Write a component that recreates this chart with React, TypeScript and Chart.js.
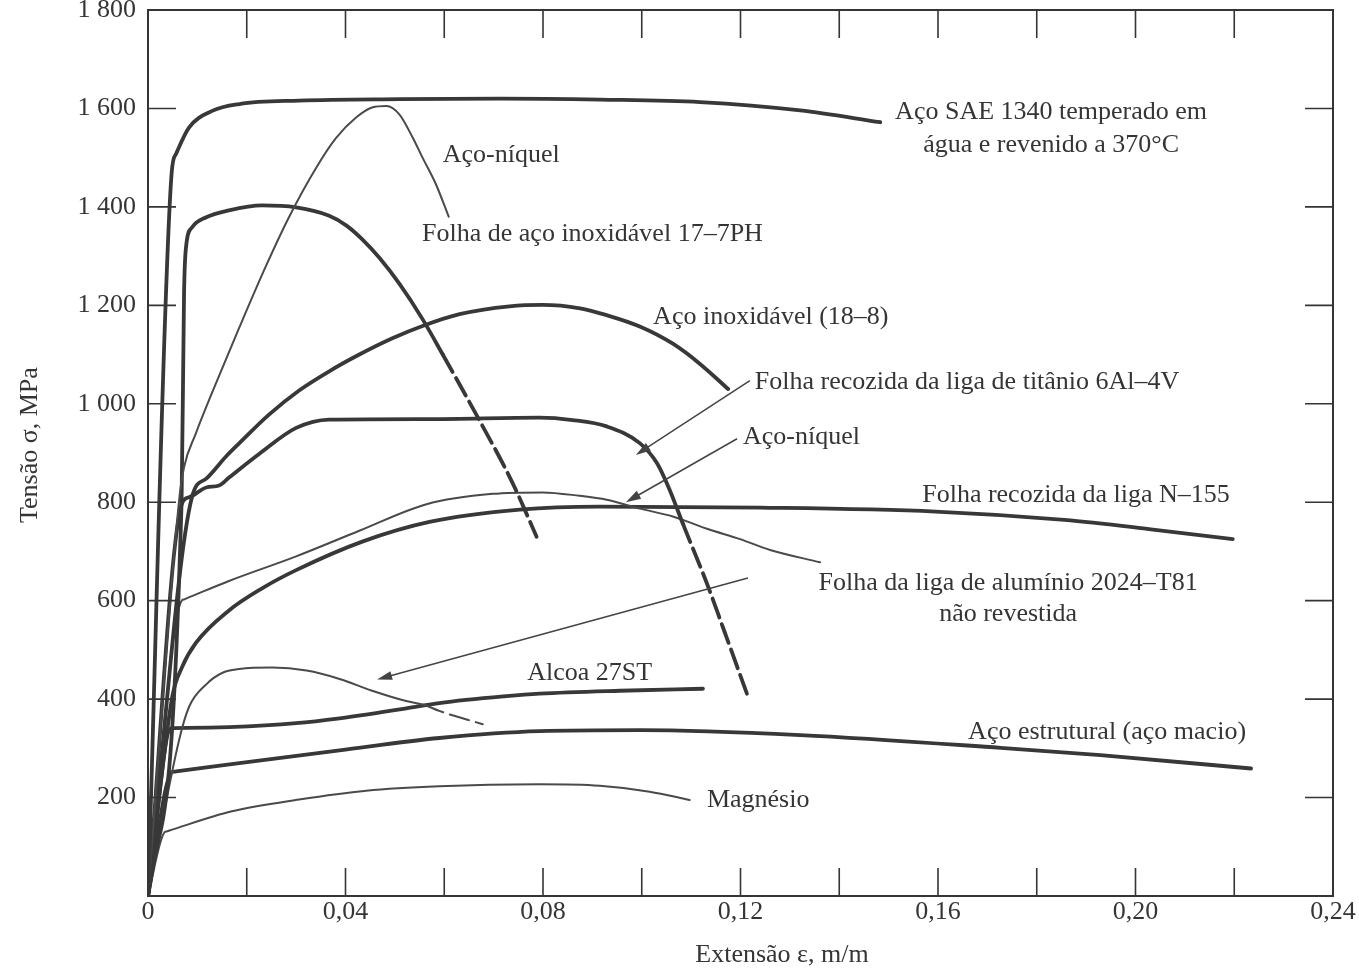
import React, { useEffect, useRef } from 'react';
import { Chart, registerables } from 'chart.js';

Chart.register(...registerables);

// ---------- axes ----------
const xTickValues = [0, 0.04, 0.08, 0.12, 0.16, 0.2, 0.24];
const yTickValues = [200, 400, 600, 800, 1000, 1200, 1400, 1600, 1800];
const xMarkTicks = [0.02, 0.04, 0.06, 0.08, 0.1, 0.12, 0.14, 0.16, 0.18, 0.2, 0.22];
const yMarkTicks = [200, 400, 600, 800, 1000, 1200, 1400, 1600];
const xAxisTitle = 'Extensão ε, m/m';
const yAxisTitle = 'Tensão σ, MPa';

// ---------- series (strain m/m, stress MPa) ----------
const sae1340Strain = [0, 0.0048, 0.0057, 0.0083, 0.013, 0.0185, 0.0306, 0.0509, 0.0712, 0.0915, 0.1118, 0.1321, 0.1483];
const sae1340Stress = [0, 1470, 1508, 1561, 1595, 1609, 1616, 1619, 1620, 1618, 1613, 1596, 1572];

const nickelUpperStrain = [0, 0.0063, 0.0073, 0.0097, 0.013, 0.0185, 0.0239, 0.0286, 0.0341, 0.0381, 0.0422, 0.0454, 0.0483, 0.0509, 0.0536, 0.0556, 0.0584, 0.0609];
const nickelUpperStress = [0, 804, 871, 940, 1023, 1155, 1280, 1380, 1480, 1540, 1582, 1602, 1605, 1588, 1541, 1500, 1444, 1380];

const ph177Strain = [0, 0.0068, 0.0073, 0.0077, 0.0089, 0.0118, 0.0164, 0.0231, 0.03, 0.0367, 0.0402, 0.0434, 0.0469, 0.0509, 0.0556, 0.0597, 0.0672, 0.0738, 0.0787];
const ph177Stress = [0, 800, 1224, 1318, 1358, 1379, 1393, 1403, 1399, 1382, 1362, 1334, 1296, 1244, 1172, 1100, 965, 840, 730];
const ph177DashFrom = 15;

const ss188Strain = [0, 0.0089, 0.0118, 0.0158, 0.0185, 0.0245, 0.0306, 0.0367, 0.0428, 0.0495, 0.0556, 0.0631, 0.0732, 0.0799, 0.0875, 0.0929, 0.0996, 0.1063, 0.1118, 0.1175];
const ss188Stress = [0, 810, 848, 893, 920, 978, 1027, 1066, 1100, 1133, 1158, 1182, 1198, 1201, 1194, 1180, 1157, 1122, 1081, 1030];

const ti6al4vStrain = [0, 0.0069, 0.0083, 0.0118, 0.0144, 0.0164, 0.0225, 0.03, 0.0367, 0.057, 0.0793, 0.086, 0.0929, 0.0996, 0.1031, 0.1057, 0.1083, 0.1132, 0.1164, 0.1213];
const ti6al4vStress = [0, 798, 810, 830, 834, 850, 898, 951, 968, 969, 972, 967, 954, 920, 879, 824, 757, 635, 547, 411];
const ti6al4vDashFrom = 16;

const nickelLowerStrain = [0, 0.0069, 0.0073, 0.0077, 0.0164, 0.03, 0.0428, 0.0564, 0.0698, 0.0799, 0.0874, 0.0929, 0.0996, 0.1063, 0.1132, 0.1199, 0.126, 0.1361];
const nickelLowerStress = [0, 601, 602.6, 604.2, 640, 690, 742, 796, 817, 820, 813, 805, 787, 771, 746, 725, 703, 678];

const n155Strain = [0, 0.0049, 0.0069, 0.0097, 0.0164, 0.0231, 0.03, 0.0434, 0.057, 0.0753, 0.0915, 0.124, 0.1595, 0.1856, 0.2031, 0.2197];
const n155Stress = [0, 404, 465, 514, 580, 625, 662, 720, 760, 785, 791, 789, 781, 764, 745, 725];

const al2024Strain = [0, 0.0063, 0.0083, 0.0118, 0.015, 0.0185, 0.0252, 0.0321, 0.0388, 0.0454, 0.0523, 0.056, 0.059, 0.0678];
const al2024Stress = [0, 317, 384, 430, 453, 461, 464, 458, 441, 417, 396, 388, 376, 349];
const al2024DashFrom = 11;

const alcoaStrain = [0, 0.0047, 0.008, 0.0164, 0.03, 0.0388, 0.0523, 0.059, 0.0726, 0.0793, 0.0956, 0.1124];
const alcoaStress = [0, 341, 341.5, 343, 351, 361, 381, 392, 406, 411, 417, 421];

const structuralStrain = [0, 0.0049, 0.0053, 0.0057, 0.0185, 0.0388, 0.059, 0.0793, 0.0996, 0.1321, 0.1727, 0.1929, 0.2234];
const structuralStress = [0, 252, 252.5, 253, 270, 296, 321, 335, 337, 327, 301, 286, 259];

const magnesiumStrain = [0, 0.0034, 0.0038, 0.0042, 0.017, 0.0306, 0.0442, 0.059, 0.0793, 0.0915, 0.1016, 0.1097];
const magnesiumStress = [0, 130, 131.2, 132.5, 172, 196, 214, 223, 227, 224, 212, 195];

// ---------- annotations (in data coordinates) ----------
const labelTexts = [
  'Aço SAE 1340 temperado em',
  'água e revenido a 370°C',
  'Aço-níquel',
  'Folha de aço inoxidável 17–7PH',
  'Aço inoxidável (18–8)',
  'Folha recozida da liga de titânio 6Al–4V',
  'Aço-níquel',
  'Folha recozida da liga N–155',
  'Folha da liga de alumínio 2024–T81',
  'não revestida',
  'Alcoa 27ST',
  'Aço estrutural (aço macio)',
  'Magnésio',
];
const labelStrain = [0.1829, 0.1829, 0.0597, 0.0555, 0.1023, 0.1229, 0.1205, 0.1568, 0.1742, 0.1742, 0.0768, 0.1661, 0.1132];
const labelStress = [1592, 1525, 1506, 1345, 1176, 1043, 933, 815, 635, 572, 452, 333, 194];
const labelAlign = ['center', 'center', 'left', 'left', 'left', 'left', 'left', 'left', 'center', 'center', 'left', 'left', 'left'];

const arrowFromStrain = [0.1219, 0.1193, 0.1215];
const arrowFromStress = [1047, 929, 646];
const arrowToStrain = [0.0988, 0.0968, 0.0464];
const arrowToStress = [896, 800, 440];

const FONT = '"Liberation Serif", "Times New Roman", serif';
const INK = '#353535';
const THICK = '#383838';
const THIN = '#4a4a4a';

function pts(xs: number[], ys: number[]) {
  return xs.map((x, i) => ({ x, y: ys[i] }));
}

function series(xs: number[], ys: number[], thick: boolean, dashFrom?: number) {
  const ds: any = {
    data: pts(xs, ys),
    borderColor: thick ? THICK : THIN,
    borderWidth: thick ? 3.8 : 2,
    pointRadius: 0,
    fill: false,
    cubicInterpolationMode: 'monotone',
    borderCapStyle: 'round',
    borderJoinStyle: 'round',
  };
  if (dashFrom !== undefined) {
    ds.segment = {
      borderDash: (ctx: any) => (ctx.p0DataIndex >= dashFrom ? [20, 7] : undefined),
    };
  }
  return ds;
}

const paperPlugin = {
  id: 'paperPlugin',
  afterDatasetsDraw(chart: any) {
    const { ctx, chartArea: a, scales } = chart;
    const xs = scales.x;
    const ys = scales.y;
    const TICK = 28;
    ctx.save();
    ctx.strokeStyle = INK;
    ctx.lineWidth = 2;
    ctx.strokeRect(a.left, a.top, a.right - a.left, a.bottom - a.top);

    ctx.lineWidth = 1.6;
    ctx.beginPath();
    for (const v of xMarkTicks) {
      const p = xs.getPixelForValue(v);
      ctx.moveTo(p, a.bottom);
      ctx.lineTo(p, a.bottom - TICK);
      ctx.moveTo(p, a.top);
      ctx.lineTo(p, a.top + TICK);
    }
    for (const v of yMarkTicks) {
      const p = ys.getPixelForValue(v);
      ctx.moveTo(a.left, p);
      ctx.lineTo(a.left + TICK, p);
      ctx.moveTo(a.right, p);
      ctx.lineTo(a.right - TICK, p);
    }
    ctx.stroke();

    // arrows
    ctx.strokeStyle = '#444';
    ctx.fillStyle = '#444';
    ctx.lineWidth = 1.5;
    for (let i = 0; i < arrowFromStrain.length; i++) {
      const x1 = xs.getPixelForValue(arrowFromStrain[i]);
      const y1 = ys.getPixelForValue(arrowFromStress[i]);
      const x2 = xs.getPixelForValue(arrowToStrain[i]);
      const y2 = ys.getPixelForValue(arrowToStress[i]);
      const ang = Math.atan2(y2 - y1, x2 - x1);
      const L = 15;
      const W = 4.5;
      ctx.beginPath();
      ctx.moveTo(x1, y1);
      ctx.lineTo(x2 - Math.cos(ang) * L * 0.8, y2 - Math.sin(ang) * L * 0.8);
      ctx.stroke();
      ctx.beginPath();
      ctx.moveTo(x2, y2);
      ctx.lineTo(x2 - Math.cos(ang) * L - Math.sin(ang) * W, y2 - Math.sin(ang) * L + Math.cos(ang) * W);
      ctx.lineTo(x2 - Math.cos(ang) * L + Math.sin(ang) * W, y2 - Math.sin(ang) * L - Math.cos(ang) * W);
      ctx.closePath();
      ctx.fill();
    }

    // curve labels
    ctx.fillStyle = INK;
    ctx.font = `26px ${FONT}`;
    ctx.textBaseline = 'middle';
    for (let i = 0; i < labelTexts.length; i++) {
      ctx.textAlign = labelAlign[i];
      ctx.fillText(labelTexts[i], xs.getPixelForValue(labelStrain[i]), ys.getPixelForValue(labelStress[i]));
    }

    // axis titles
    ctx.textAlign = 'center';
    ctx.fillText(xAxisTitle, xs.getPixelForValue(0.1284), a.bottom + 59);
    ctx.save();
    ctx.translate(30, ys.getPixelForValue(916));
    ctx.rotate(-Math.PI / 2);
    ctx.fillText(yAxisTitle, 0, 0);
    ctx.restore();

    ctx.restore();
  },
};

function fmtX(v: number) {
  if (Math.abs(v) < 1e-9) return '0';
  return v.toFixed(2).replace('.', ',');
}
function fmtY(v: number) {
  if (v === 0) return '';
  if (v >= 1000) {
    const s = String(Math.round(v));
    return s.slice(0, s.length - 3) + ' ' + s.slice(s.length - 3);
  }
  return String(Math.round(v));
}

export default function App() {
  const ref = useRef<HTMLCanvasElement | null>(null);
  useEffect(() => {
    if (!ref.current) return;
    const chart = new Chart(ref.current, {
      type: 'line',
      data: {
        datasets: [
          series(sae1340Strain, sae1340Stress, true),
          series(nickelUpperStrain, nickelUpperStress, false),
          series(ph177Strain, ph177Stress, true, ph177DashFrom),
          series(ss188Strain, ss188Stress, true),
          series(ti6al4vStrain, ti6al4vStress, true, ti6al4vDashFrom),
          series(nickelLowerStrain, nickelLowerStress, false),
          series(n155Strain, n155Stress, true),
          series(al2024Strain, al2024Stress, false, al2024DashFrom),
          series(alcoaStrain, alcoaStress, true),
          series(structuralStrain, structuralStress, true),
          series(magnesiumStrain, magnesiumStress, false),
        ],
      },
      options: {
        responsive: false,
        animation: false,
        events: [],
        layout: { padding: { top: 10, right: 26, left: 0, bottom: 0 } },
        plugins: { legend: { display: false }, tooltip: { enabled: false } },
        scales: {
          x: {
            type: 'linear',
            min: 0,
            max: 0.24,
            afterBuildTicks: (s: any) => {
              s.ticks = xTickValues.map((v) => ({ value: v }));
            },
            afterFit: (s: any) => {
              s.height = 74;
              s.paddingLeft = 0;
              s.paddingRight = 0;
            },
            grid: { display: false, drawTicks: false, tickLength: 0 },
            border: { display: false },
            ticks: {
              autoSkip: false,
              maxRotation: 0,
              padding: 1,
              color: INK,
              font: { family: FONT, size: 26, lineHeight: 1.2 },
              callback: (v: any) => fmtX(Number(v)),
            },
          },
          y: {
            type: 'linear',
            min: 0,
            max: 1800,
            afterBuildTicks: (s: any) => {
              s.ticks = yTickValues.map((v) => ({ value: v }));
            },
            afterFit: (s: any) => {
              s.width = 148;
              s.paddingTop = 0;
              s.paddingBottom = 0;
            },
            grid: { display: false, drawTicks: false, tickLength: 0 },
            border: { display: false },
            ticks: {
              autoSkip: false,
              padding: 12,
              color: INK,
              font: { family: FONT, size: 26, lineHeight: 1 },
              callback: (v: any) => fmtY(Number(v)),
            },
          },
        },
      },
      plugins: [paperPlugin],
    } as any);
    return () => chart.destroy();
  }, []);

  return (
    <div style={{ position: 'fixed', left: 0, top: 0, width: 1359, height: 970, background: '#fff' }}>
      <canvas ref={ref} width={1359} height={970} style={{ display: 'block', width: 1359, height: 970 }} />
    </div>
  );
}
